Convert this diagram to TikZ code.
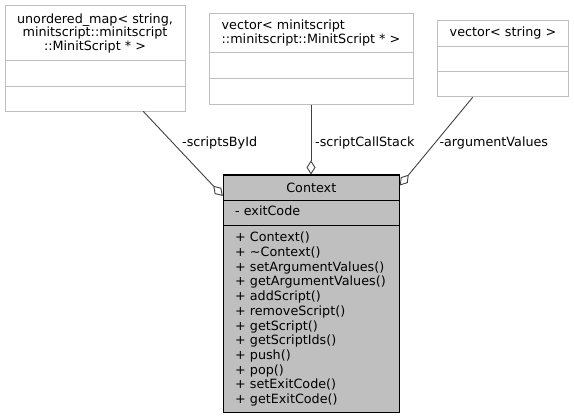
\documentclass[tikz,border=0pt]{standalone}
\usepackage{fontspec}
\setmainfont{DejaVu Sans}
\usetikzlibrary{arrows.meta}
\definecolor{boxgray}{HTML}{BFBFBF}
\definecolor{fillgray}{HTML}{BFBFBF}
\definecolor{linkgray}{HTML}{404040}
\tikzset{
  sec/.style={draw=boxgray, line width=0.9pt, inner sep=0pt, fill=white},
  csec/.style={draw=black, line width=1.1pt, inner sep=0pt, fill=fillgray},
  link/.style={draw=linkgray, line width=0.9pt, -{Diamond[fill=white, length=14pt, width=9pt, line width=0.9pt]}},
  lbl/.style={anchor=base west, inner sep=0pt},
}
\begin{document}
\begin{tikzpicture}[x=1pt, y=-1pt, font=\fontsize{12.75}{13.4}\selectfont]
\useasboundingbox (0,0) rectangle (574,419);
% unordered_map box
\node[sec, minimum width=180pt, minimum height=55pt, align=center] (m1a) at (95,33.2)
  {unordered\_map< string,\\minitscript::minitscript\\::MinitScript * >};
\node[sec, minimum width=180pt, minimum height=25.3pt] (m1b) at (95,73.35) {};
\node[sec, minimum width=180pt, minimum height=25pt] (m1c) at (95,98.5) {};
% vector<MinitScript*> box
\node[sec, minimum width=204pt, minimum height=39.4pt, align=left, font=\fontsize{12.75}{14.8}\selectfont] (m2a) at (311,33)
  {vector< minitscript\\::minitscript::MinitScript * >};
\node[sec, minimum width=204pt, minimum height=26pt] (m2b) at (311,65.7) {};
\node[sec, minimum width=204pt, minimum height=25.3pt] (m2c) at (311,91.35) {};
% vector<string> box
\node[sec, minimum width=131.4pt, minimum height=25.3pt] (m3a) at (503,33.35) {vector< string >};
\node[sec, minimum width=131.4pt, minimum height=25pt] (m3b) at (503,58.5) {};
\node[sec, minimum width=131.4pt, minimum height=25.7pt] (m3c) at (503,83.85) {};
% Context box
\node[csec, minimum width=176pt, minimum height=25.7pt] (ctxt) at (311.3,187.85) {Context};
\node[csec, minimum width=176pt, minimum height=25pt] (ctxa) at (311.3,213.2) {};
\node[csec, minimum width=176pt, minimum height=186.6pt] (ctxm) at (311.3,319) {};
\node[lbl] (attr) at (235,216) {- exitCode};
\node[anchor=north west, inner sep=0pt, align=left, font=\fontsize{12.75}{14.7}\selectfont] (meth) at (235,232)
  {+ Context()\\+ \textasciitilde Context()\\+ setArgumentValues()\\+ getArgumentValues()\\+ addScript()\\+ removeScript()\\+ getScript()\\+ getScriptIds()\\+ push()\\+ pop()\\+ setExitCode()\\+ getExitCode()};
% connectors
\coordinate (s1) at (143.3,111.4);
\coordinate (e1) at (222.8,196);
\coordinate (s2) at (311,104.6);
\coordinate (e2) at (311,174.5);
\coordinate (s3) at (472.7,97.3);
\coordinate (e3) at (399.8,185.5);
\draw[link] (s1) -- (e1);
\draw[link] (s2) -- (e2);
\draw[link] (s3) -- (e3);
\node[lbl] (l1) at (182,146.7) {-scriptsById};
\node[lbl] (l2) at (315,146.7) {-scriptCallStack};
\node[lbl] (l3) at (439.3,146.7) {-argumentValues};
\end{tikzpicture}
\end{document}
